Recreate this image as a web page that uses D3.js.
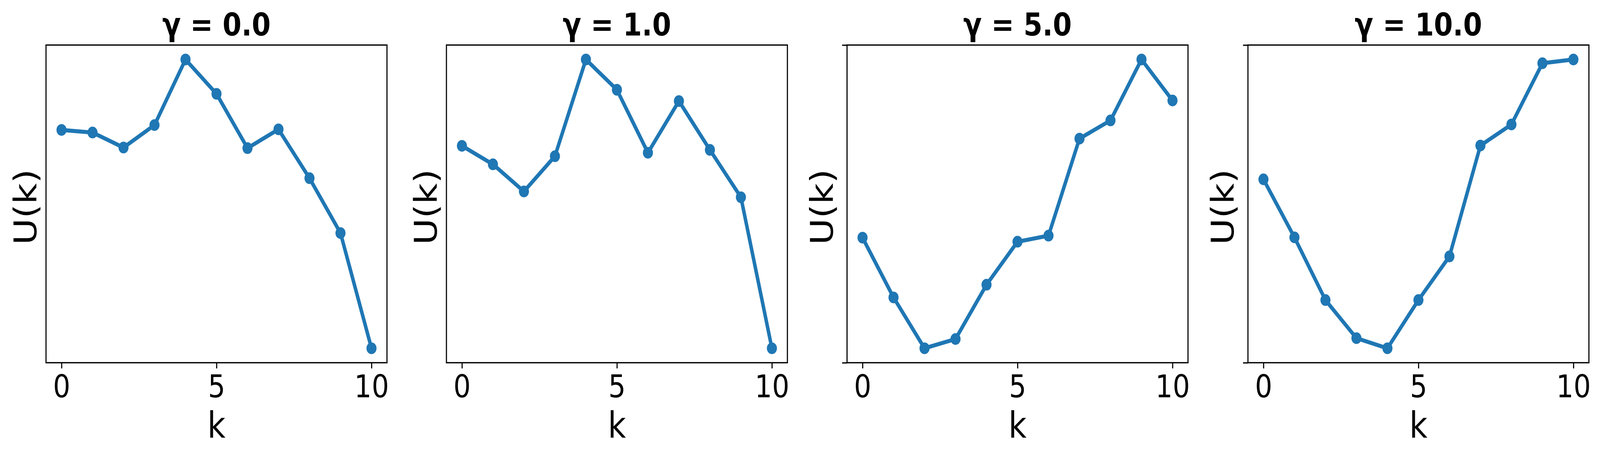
<!DOCTYPE html>
<html>
<head>
<meta charset="utf-8">
<script src="https://cdn.jsdelivr.net/npm/d3@7"></script>
<style>
  html, body { margin: 0; padding: 0; width: 100%; height: 100%; overflow: hidden; background: #fff; }
  svg { display: block; }
  text { font-family: "DejaVu Sans", sans-serif; fill: #000; }
</style>
</head>
<body>
<svg class="panels" viewBox="0 0 4763 1171" preserveAspectRatio="none" width="100%" height="100%"></svg>
<script>
// values, k = 0..10 (U(k) in relative units, no y scale shown)
const kValues = [0, 1, 2, 3, 4, 5, 6, 7, 8, 9, 10];
const gammaLabels = ["0.0", "1.0", "5.0", "10.0"];
const xTicks = [0, 5, 10];

const uGamma0 = [0.756, 0.747, 0.695, 0.773, 1.000, 0.881, 0.693, 0.758, 0.589, 0.399, 0.000];
const uGamma1 = [0.701, 0.637, 0.543, 0.665, 1.000, 0.895, 0.677, 0.856, 0.687, 0.523, 0.000];
const uGamma5 = [0.383, 0.176, 0.000, 0.032, 0.220, 0.369, 0.390, 0.726, 0.789, 1.000, 0.858];
const uGamma10 = [0.585, 0.384, 0.167, 0.035, 0.000, 0.167, 0.318, 0.702, 0.775, 0.987, 1.000];

const seriesList = [uGamma0, uGamma1, uGamma5, uGamma10];
// last two panels carry bare y ticks at the axis limits
const showYTicks = [false, false, true, true];

(function panelsIIFE() {
    let svg = d3.select("svg.panels");
    let panelLeft = [137, 1329, 2521.5, 3715];
    let panelTop = 115.4;
    let width = 1015;
    let height = 814;
    let labelGap = [29, 29, 42.5, 42.5];
    let blue = "#1f77b4";

    gammaLabels.forEach(function(gamma, i) {
        let values = seriesList[i];
        let data = kValues.map(function(k, j) { return {k: k, u: values[j]}; });

        let g = svg.append("g")
            .attr("transform", "translate(" + panelLeft[i] + "," + panelTop + ")");

        //scales with matplotlib style 5% margins
        let xExt = d3.extent(kValues);
        let xPad = (xExt[1] - xExt[0]) * 0.05;
        let yExt = d3.extent(values);
        let yPad = (yExt[1] - yExt[0]) * 0.05;
        let x = d3.scaleLinear().domain([xExt[0] - xPad, xExt[1] + xPad]).range([0, width]);
        let y = d3.scaleLinear().domain([yExt[0] - yPad, yExt[1] + yPad]).range([height, 0]);

        //x axis
        let xAxis = g.append("g")
            .attr("class", "x-axis")
            .attr("transform", "translate(0," + height + ")")
            .call(d3.axisBottom(x).tickValues(xTicks).tickFormat(d3.format("d"))
                .tickSizeInner(14.6).tickSizeOuter(0).tickPadding(17));
        xAxis.select(".domain").remove();
        xAxis.selectAll(".tick line").attr("stroke", "#000").attr("stroke-width", 3.3);
        xAxis.selectAll(".tick text")
            .style("font-size", "81px")
            .style("font-family", "'DejaVu Sans', sans-serif")
            .attr("fill", "#000");

        //y axis, ticks only where the reference shows them
        if (showYTicks[i]) {
            let yAxis = g.append("g")
                .attr("class", "y-axis")
                .call(d3.axisLeft(y).tickValues(y.domain()).tickFormat("")
                    .tickSizeInner(14.6).tickSizeOuter(0));
            yAxis.select(".domain").remove();
            yAxis.selectAll(".tick line").attr("stroke", "#000").attr("stroke-width", 3.3);
        }

        //line and markers
        let line = d3.line()
            .x(function(d) { return x(d.k); })
            .y(function(d) { return y(d.u); });

        g.append("path")
            .datum(data)
            .attr("fill", "none")
            .attr("stroke", blue)
            .attr("stroke-width", 10.4)
            .attr("stroke-linejoin", "round")
            .attr("d", line);

        g.selectAll(".dot")
            .data(data)
            .enter()
            .append("circle")
            .attr("class", "dot")
            .attr("cx", function(d) { return x(d.k); })
            .attr("cy", function(d) { return y(d.u); })
            .attr("r", 15)
            .style("fill", blue);

        //frame
        g.append("rect")
            .attr("width", width)
            .attr("height", height)
            .attr("fill", "none")
            .attr("stroke", "#000")
            .attr("stroke-width", 3.3);

        //title and labels
        g.append("text")
            .attr("x", width / 2)
            .attr("y", -24.5)
            .attr("text-anchor", "middle")
            .style("font-size", "81px")
            .style("font-weight", "bold")
            .text("\u03b3 = " + gamma);

        g.append("text")
            .attr("x", width / 2)
            .attr("y", 1122 - panelTop)
            .attr("text-anchor", "middle")
            .style("font-size", "93px")
            .text("k");

        g.append("text")
            .attr("transform", "translate(" + (-labelGap[i]) + "," + (height / 2 + 8) + ") rotate(-90)")
            .attr("text-anchor", "middle")
            .style("font-size", "93px")
            .text("U(k)");
    });
})();
</script>
</body>
</html>
